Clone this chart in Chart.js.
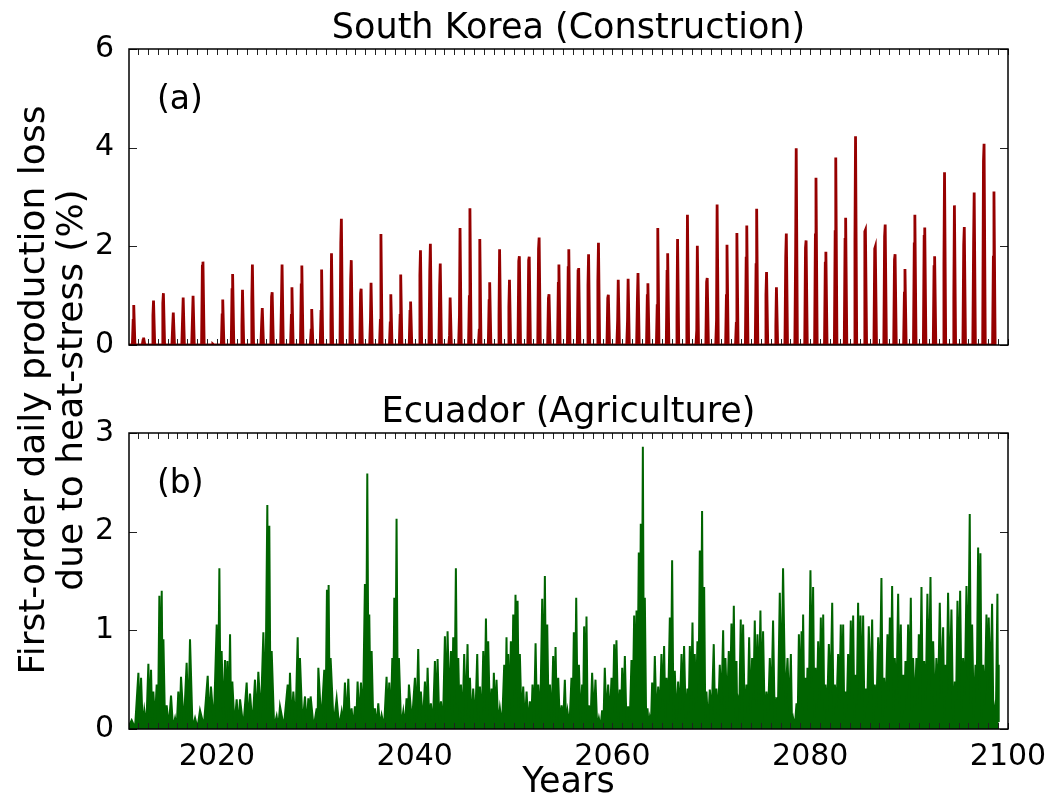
<!DOCTYPE html>
<html lang="en">
<head>
<meta charset="UTF-8">
<title>Heat-stress production loss</title>
<script src="https://cdn.jsdelivr.net/npm/chart.js"></script>
<style>
  body { margin: 0; background: #fff; }
  .figure { position: relative; width: 1050px; height: 802px; }
  .figure canvas { position: absolute; left: 0; top: 0; }
</style>
</head>
<body>
<div class="figure">
  <canvas id="korea" width="1050" height="802"></canvas>
  <canvas id="ecuador" width="1050" height="802"></canvas>
</div>
<script>
// South Korea (Construction): one summer spike per year, 2011..2098
const koreaFirstYear = 2011;
const koreaPeaks = [
  0.81, 0.15, 0.90, 1.05, 0.66, 0.96, 1.00, 1.69, 0.02, 0.92,
  1.44, 1.12, 1.63, 0.75, 1.07, 1.63, 1.17, 1.61, 0.73, 1.53,
  1.86, 2.56, 1.72, 1.14, 1.26, 2.25, 1.03, 1.43, 0.88, 1.92,
  2.05, 1.65, 0.96, 2.37, 2.77, 2.15, 1.27, 1.94, 1.32, 1.80,
  1.79, 2.18, 1.03, 1.63, 1.94, 1.56, 1.84, 2.07, 1.02, 1.32,
  1.34, 1.46, 1.25, 2.37, 1.86, 2.15, 2.64, 2.01, 1.36, 2.85,
  2.03, 2.27, 2.42, 2.76, 1.48, 1.17, 2.26, 3.99, 2.12, 3.39,
  1.89, 3.80, 2.58, 4.23, 2.33, 1.99, 2.44, 1.84, 1.54, 2.64,
  2.38, 1.80, 3.50, 2.83, 2.39, 3.09, 4.08, 3.11
];
// lower shoulder next to each spike
const koreaShoulders = [
  0.50, 0.10, 0.60, 0.85, 0.40, 0.55, 0.56, 1.60, 0.00, 0.61,
  1.12, 0.40, 0.92, 0.47, 0.98, 0.90, 0.60, 1.22, 0.30, 0.68,
  0.50, 2.07, 1.35, 1.05, 0.50, 0.50, 0.45, 0.60, 0.68, 1.42,
  1.50, 1.22, 0.20, 0.60, 0.98, 0.30, 0.90, 0.60, 0.78, 1.70,
  1.72, 1.95, 0.95, 1.25, 1.57, 1.50, 1.22, 1.29, 0.95, 0.50,
  0.50, 0.95, 1.00, 0.80, 1.49, 0.60, 0.40, 0.30, 1.28, 0.50,
  1.00, 0.44, 1.76, 1.63, 1.02, 0.40, 1.80, 1.86, 1.97, 2.23,
  1.66, 2.30, 2.14, 2.13, 2.30, 1.95, 2.20, 1.73, 1.05, 2.05,
  2.20, 1.59, 1.66, 0.98, 2.03, 2.07, 3.73, 1.78
];

// Ecuador (Agriculture): local maxima (year, value) and the dip after each one
const ecuadorYears = [
  2011.37, 2012.05, 2012.32, 2012.65, 2013.06, 2013.33, 2013.56, 2013.90, 2014.17, 2014.41,
  2014.58, 2014.91, 2015.35, 2015.76, 2016.09, 2016.36, 2016.93, 2017.27, 2017.78, 2018.28,
  2019.06, 2019.39, 2019.97, 2020.24, 2020.47, 2020.81, 2021.05, 2021.32, 2021.55, 2021.99,
  2022.33, 2023.00, 2023.34, 2023.84, 2024.18, 2024.69, 2025.09, 2025.29, 2025.53, 2026.03,
  2026.37, 2027.15, 2027.38, 2027.72, 2028.16, 2028.39, 2028.90, 2029.24, 2029.47, 2030.08,
  2030.25, 2030.85, 2031.12, 2031.29, 2031.49, 2032.10, 2032.61,
  2032.94, 2033.28, 2033.61, 2033.95, 2034.22, 2034.56, 2034.96, 2035.20, 2035.40, 2035.64,
  2035.97, 2036.31, 2036.65, 2037.15, 2037.42, 2037.73, 2037.93, 2038.16, 2038.40, 2038.84,
  2039.17, 2039.41, 2040.02, 2040.35, 2040.62, 2041.03, 2041.30, 2041.63, 2042.04, 2042.31,
  2042.65, 2043.05, 2043.32, 2043.66, 2043.89, 2044.16, 2044.40, 2044.67, 2045.00, 2045.34,
  2045.58, 2045.91, 2046.32, 2046.59, 2046.93, 2047.20, 2047.43, 2047.77, 2048.00, 2048.27,
  2048.61, 2049.05, 2049.28, 2049.45, 2049.72, 2049.96, 2050.19, 2050.40, 2050.63, 2050.97,
  2051.31, 2051.64, 2051.91, 2052.22, 2052.49, 2052.89, 2053.16, 2053.40, 2053.67, 2054.00,
  2054.24, 2054.51, 2054.85,
  2055.18, 2055.45, 2055.85, 2056.09, 2056.33, 2056.60, 2056.93, 2057.13, 2057.37, 2057.61,
  2057.94, 2058.28, 2058.62, 2058.95, 2059.22, 2059.56, 2059.90, 2060.17, 2060.40, 2060.74,
  2060.98, 2061.25, 2061.58, 2061.92, 2062.19, 2062.43, 2062.66, 2062.86, 2063.07, 2063.27,
  2063.54, 2063.77, 2064.01, 2064.28, 2064.62, 2064.95, 2065.22, 2065.46, 2065.80, 2066.03,
  2066.30, 2066.64, 2066.98, 2067.24, 2067.58, 2067.82, 2068.09, 2068.32, 2068.59, 2068.83,
  2069.06, 2069.27, 2069.50, 2069.84, 2070.24, 2070.51, 2070.85, 2071.19, 2071.42, 2071.76,
  2072.03, 2072.27, 2072.54, 2072.70, 2072.97, 2073.21, 2073.55, 2073.82, 2074.12, 2074.39,
  2074.66, 2074.96, 2075.23, 2075.57, 2075.91, 2076.24, 2076.58, 2076.92, 2077.25,
  2077.70, 2078.04, 2078.27, 2078.61, 2078.85, 2079.12, 2079.28, 2079.52, 2079.72, 2080.02,
  2080.29, 2080.53, 2080.80, 2081.07, 2081.31, 2081.54, 2081.88, 2082.22, 2082.49, 2082.82,
  2083.09, 2083.33, 2083.56, 2083.83, 2084.10, 2084.34, 2084.57, 2084.84, 2085.08, 2085.35,
  2085.62, 2085.92, 2086.26, 2086.53, 2086.87, 2087.20, 2087.47, 2087.81, 2088.05, 2088.28,
  2088.55, 2088.89, 2089.16, 2089.39, 2089.63, 2089.90, 2090.17, 2090.40, 2090.74, 2090.98,
  2091.25, 2091.52, 2091.85, 2092.16, 2092.43, 2092.76, 2093.10, 2093.44, 2093.67, 2093.94,
  2094.28, 2094.62, 2094.89, 2095.16, 2095.46, 2095.80, 2096.13, 2096.37, 2096.71, 2096.98,
  2097.21, 2097.48, 2097.82, 2098.05, 2098.39, 2098.66, 2098.93, 2099.06
];
const ecuadorPeaks = [
  0.09, 0.57, 0.52, 0.19, 0.66, 0.60, 0.38, 0.45, 1.35, 1.40,
  0.91, 0.24, 0.34, 0.11, 0.38, 0.53, 0.67, 0.91, 0.11, 0.19,
  0.54, 0.43, 1.06, 1.63, 0.79, 0.70, 0.69, 0.96, 0.48, 0.30,
  0.30, 0.47, 0.36, 0.50, 0.58, 0.98, 2.27, 2.06, 0.79, 0.13,
  0.23, 0.45, 0.57, 0.38, 0.93, 0.72, 0.33, 0.31, 0.33, 0.21,
  0.62, 0.60, 1.41, 1.46, 0.72, 0.31, 0.18,
  0.47, 0.51, 0.21, 0.23, 0.48, 0.47, 1.47, 2.59, 1.16, 0.79,
  0.21, 0.26, 0.14, 0.53, 0.47, 0.72, 1.33, 2.13, 0.72, 0.18,
  0.31, 0.45, 0.52, 0.81, 0.38, 0.48, 0.62, 0.26, 0.69, 0.71,
  0.28, 0.94, 0.99, 0.79, 0.93, 1.63, 0.72, 0.45, 0.76, 0.86,
  0.52, 0.41, 0.76, 0.43, 0.79, 1.12, 0.89, 0.41, 0.57, 0.50,
  0.21, 0.65, 0.93, 0.76, 0.89, 1.16, 1.36, 1.30, 0.76, 0.43,
  0.38, 0.28, 0.45, 0.87, 0.45, 1.32, 1.55, 1.06, 0.45, 0.74,
  0.83, 0.52, 0.24,
  0.50, 0.18, 0.52, 0.98, 1.33, 0.65, 0.45, 1.04, 1.14, 0.24,
  0.57, 0.50, 0.11, 0.19, 0.62, 0.45, 0.52, 0.86, 0.90, 0.40,
  0.62, 0.74, 0.23, 0.70, 1.15, 1.20, 1.79, 2.08, 2.86, 1.33,
  0.21, 0.11, 0.47, 0.74, 0.43, 0.76, 0.84, 0.52, 1.13, 1.71,
  0.59, 0.48, 0.76, 0.84, 0.41, 0.84, 1.08, 0.76, 0.89, 1.81,
  2.21, 1.44, 0.38, 0.40, 0.86, 0.41, 0.65, 1.00, 0.72, 0.79,
  1.07, 1.25, 0.69, 0.31, 1.11, 1.06, 0.45, 0.93, 0.72, 1.10,
  0.96, 1.20, 0.99, 0.38, 0.72, 1.10, 0.31, 1.38, 1.63,
  0.72, 0.76, 0.11, 0.26, 0.96, 0.99, 1.16, 0.52, 0.62, 1.61,
  1.44, 0.62, 0.89, 1.13, 1.16, 0.45, 0.86, 1.28, 0.45, 0.76,
  1.06, 1.06, 0.38, 0.76, 1.10, 1.15, 0.55, 1.28, 1.15, 1.15,
  0.41, 1.04, 1.11, 0.45, 0.93, 1.53, 0.52, 0.96, 1.13, 1.45,
  0.72, 1.37, 1.06, 0.55, 0.69, 1.06, 1.33, 0.72, 0.72, 0.96,
  1.44, 0.69, 1.37, 1.54, 0.89, 0.72, 1.28, 1.03, 0.65, 1.38,
  1.21, 0.48, 1.30, 1.40, 0.72, 1.45, 2.18, 1.06, 0.65, 1.84,
  1.78, 0.65, 1.16, 1.13, 1.27, 0.21, 1.37, 0.65
];
const ecuadorDips = [
  0.01, 0.08, 0.02, 0.03, 0.12, 0.06, 0.08, 0.04, 0.45, 0.35,
  0.03, 0.02, 0.01, 0.02, 0.06, 0.03, 0.08, 0.01, 0.01, 0.03,
  0.06, 0.05, 0.20, 0.18, 0.10, 0.12, 0.10, 0.06, 0.03, 0.02,
  0.02, 0.05, 0.03, 0.08, 0.12, 0.20, 0.55, 0.18, 0.02, 0.01,
  0.02, 0.06, 0.05, 0.04, 0.12, 0.03, 0.02, 0.05, 0.01, 0.03,
  0.06, 0.10, 0.40, 0.20, 0.04, 0.02, 0.06,
  0.06, 0.03, 0.02, 0.05, 0.08, 0.10, 0.45, 0.70, 0.25, 0.06,
  0.02, 0.03, 0.02, 0.10, 0.06, 0.18, 0.35, 0.22, 0.03, 0.02,
  0.04, 0.06, 0.10, 0.14, 0.05, 0.08, 0.06, 0.04, 0.14, 0.06,
  0.03, 0.18, 0.22, 0.14, 0.25, 0.22, 0.10, 0.06, 0.14, 0.10,
  0.05, 0.06, 0.08, 0.05, 0.18, 0.30, 0.10, 0.05, 0.08, 0.04,
  0.03, 0.14, 0.25, 0.14, 0.22, 0.35, 0.40, 0.22, 0.10, 0.05,
  0.04, 0.03, 0.08, 0.14, 0.10, 0.35, 0.30, 0.14, 0.06, 0.14,
  0.10, 0.04, 0.06,
  0.04, 0.03, 0.12, 0.25, 0.20, 0.08, 0.15, 0.28, 0.04, 0.06,
  0.12, 0.02, 0.01, 0.04, 0.12, 0.10, 0.16, 0.25, 0.08, 0.12,
  0.20, 0.04, 0.08, 0.25, 0.40, 0.50, 0.65, 0.60, 0.45, 0.06,
  0.01, 0.04, 0.12, 0.08, 0.16, 0.20, 0.12, 0.25, 0.35, 0.08,
  0.10, 0.16, 0.20, 0.08, 0.16, 0.30, 0.20, 0.25, 0.45, 0.55,
  0.35, 0.08, 0.04, 0.16, 0.08, 0.12, 0.25, 0.16, 0.20, 0.30,
  0.35, 0.12, 0.04, 0.25, 0.30, 0.08, 0.20, 0.16, 0.30, 0.25,
  0.35, 0.25, 0.06, 0.16, 0.25, 0.05, 0.30, 0.40, 0.25,
  0.18, 0.04, 0.02, 0.08, 0.30, 0.22, 0.12, 0.18, 0.35, 0.45,
  0.12, 0.22, 0.30, 0.25, 0.08, 0.18, 0.35, 0.12, 0.22, 0.30,
  0.25, 0.08, 0.18, 0.30, 0.40, 0.12, 0.25, 0.35, 0.30, 0.08,
  0.25, 0.35, 0.08, 0.22, 0.40, 0.12, 0.22, 0.35, 0.45, 0.18,
  0.30, 0.25, 0.12, 0.18, 0.30, 0.40, 0.18, 0.22, 0.25, 0.40,
  0.18, 0.30, 0.45, 0.25, 0.18, 0.30, 0.35, 0.12, 0.35, 0.40,
  0.08, 0.30, 0.45, 0.18, 0.35, 0.50, 0.25, 0.12, 0.45, 0.40,
  0.12, 0.25, 0.35, 0.40, 0.04, 0.30, 0.08, 0.00
];

const xTicks = [2020, 2040, 2060, 2080, 2100];
const koreaYTicks = [0, 2, 4, 6];
const ecuadorYTicks = [0, 1, 2, 3];

const FONT = "'DejaVu Sans', 'Liberation Sans', sans-serif";
const X_MIN = 2011.1, X_MAX = 2100;

// build point lists
const koreaData = [{x: X_MIN, y: 0}];
koreaPeaks.forEach((p, i) => {
  const yr = koreaFirstYear + i;
  koreaData.push({x: yr + 0.44, y: 0});
  koreaData.push({x: yr + 0.52, y: koreaShoulders[i]});
  koreaData.push({x: yr + 0.58, y: p});
  koreaData.push({x: yr + 0.70, y: 0});
});

const ecuadorData = [{x: X_MIN, y: 0.03}];
ecuadorYears.forEach((yr, i) => {
  ecuadorData.push({x: yr, y: ecuadorPeaks[i]});
  if (i < ecuadorYears.length - 1) {
    ecuadorData.push({x: (yr + ecuadorYears[i + 1]) / 2, y: ecuadorDips[i]});
  }
});

// matplotlib-like box with inward ticks
const frameTicks = {
  id: 'frameTicks',
  afterDatasetsDraw(chart) {
    const {ctx, chartArea: a, scales: {x, y}} = chart;
    const seg = (x1, y1, x2, y2) => { ctx.beginPath(); ctx.moveTo(x1, y1); ctx.lineTo(x2, y2); ctx.stroke(); };
    ctx.save();
    ctx.strokeStyle = '#222';
    ctx.lineWidth = 1;
    for (let yr = 2012; yr <= X_MAX; yr++) {
      const px = Math.round(x.getPixelForValue(yr)) + 0.5;
      seg(px, a.top, px, a.top + 6);
      seg(px, a.bottom, px, a.bottom - 6);
    }
    y.ticks.forEach(t => {
      const py = Math.round(y.getPixelForValue(t.value)) + 0.5;
      seg(a.left, py, a.left + 8, py);
      seg(a.right, py, a.right - 8, py);
    });
    ctx.strokeStyle = '#000';
    ctx.lineWidth = 1.5;
    ctx.strokeRect(a.left, a.top, a.right - a.left, a.bottom - a.top);
    ctx.restore();
  }
};

// subplot title, panel letter and (on the lower chart) the shared y label
const panelText = {
  id: 'panelText',
  afterDraw(chart, args, opts) {
    const {ctx, chartArea: a} = chart;
    ctx.save();
    ctx.fillStyle = '#000';
    ctx.textBaseline = 'alphabetic';
    ctx.font = '35px ' + FONT;
    ctx.textAlign = 'center';
    ctx.fillText(opts.title, (a.left + a.right) / 2, a.top - 11);
    ctx.font = '33px ' + FONT;
    ctx.textAlign = 'left';
    ctx.fillText(opts.letter, a.left + 28, a.top + 60);
    if (opts.yLabel) {
      ctx.font = '36px ' + FONT;
      ctx.textAlign = 'center';
      ctx.textBaseline = 'middle';
      opts.yLabel.forEach((line, i) => {
        ctx.save();
        ctx.translate(35 + i * 38, 390);
        ctx.rotate(-Math.PI / 2);
        ctx.fillText(line, 0, 0);
        ctx.restore();
      });
    }
    ctx.restore();
  }
};

function makeChart(id, data, color, yMax, yTicks, isBottom, text) {
  return new Chart(document.getElementById(id), {
    type: 'line',
    data: {
      datasets: [{
        data: data,
        borderColor: color,
        backgroundColor: color,
        borderWidth: isBottom ? 2 : 2.8,
        pointRadius: 0,
        tension: 0,
        fill: isBottom ? 'origin' : false
      }]
    },
    options: {
      responsive: false,
      animation: false,
      parsing: false,
      layout: {
        padding: isBottom
          ? {top: 433, right: 42, bottom: 0, left: 0}
          : {top: 49, right: 42, bottom: 457, left: 0}
      },
      plugins: {
        legend: {display: false},
        tooltip: {enabled: false},
        filler: {propagate: false},
        panelText: text
      },
      scales: {
        x: {
          type: 'linear',
          min: X_MIN,
          max: X_MAX,
          bounds: 'data',
          grid: {display: false},
          border: {display: false},
          afterBuildTicks: s => { s.ticks = xTicks.map(v => ({value: v})); },
          afterFit: s => { s.height = isBottom ? 73 : 0; },
          ticks: {
            display: isBottom,
            autoSkip: false,
            maxRotation: 0,
            padding: 2,
            color: '#000',
            font: {family: FONT, size: 30},
            callback: v => String(v)
          },
          title: {
            display: isBottom,
            text: 'Years',
            color: '#000',
            padding: {top: 0, bottom: -2},
            font: {family: FONT, size: 35}
          }
        },
        y: {
          min: 0,
          max: yMax,
          grid: {display: false},
          border: {display: false},
          afterBuildTicks: s => { s.ticks = yTicks.map(v => ({value: v})); },
          afterFit: s => { s.width = 129; },
          ticks: {
            padding: 7,
            color: '#000',
            font: {family: FONT, size: 30},
            callback: v => String(v)
          }
        }
      }
    },
    plugins: [frameTicks, panelText]
  });
}

makeChart('korea', koreaData, '#960000', 6, koreaYTicks, false,
  {title: 'South Korea (Construction)', letter: '(a)'});
makeChart('ecuador', ecuadorData, '#006400', 3, ecuadorYTicks, true,
  {title: 'Ecuador (Agriculture)', letter: '(b)',
   yLabel: ['First-order daily production loss', 'due to heat-stress (%)']});
</script>
</body>
</html>
